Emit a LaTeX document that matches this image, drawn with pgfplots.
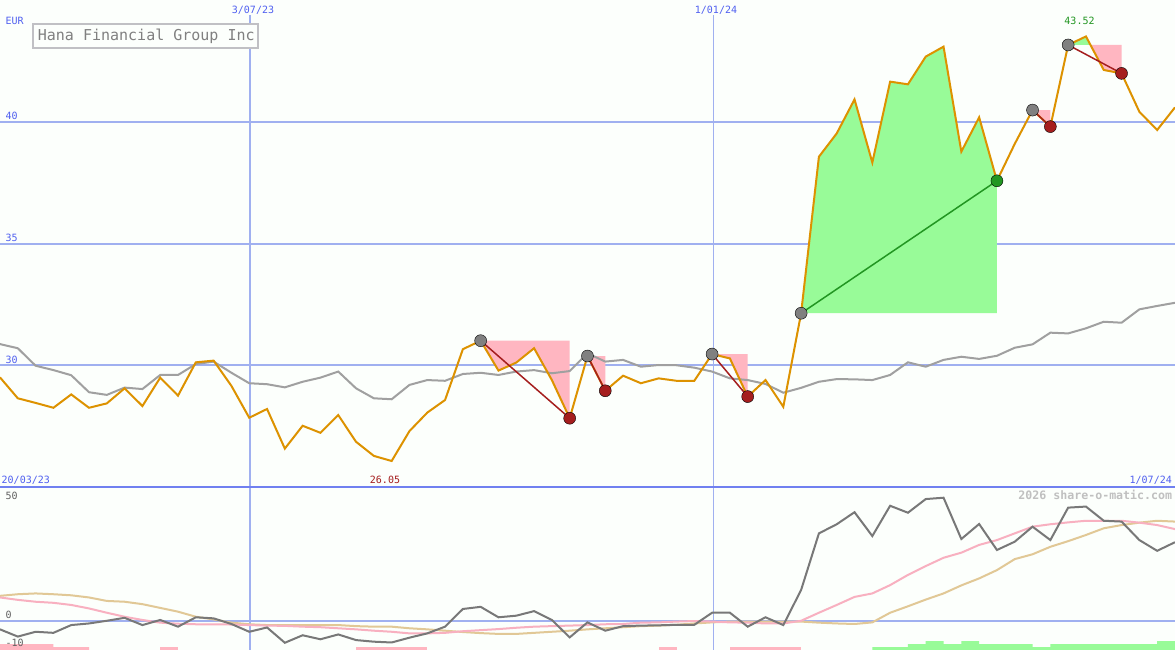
\documentclass[border=0pt]{standalone}
\usepackage{pgfplots}
\pgfplotsset{compat=1.18}
\usepackage{fontspec}
\setmainfont{DejaVu Sans Mono}
\definecolor{bg}{RGB}{252,255,252}
\definecolor{gridblue}{RGB}{160,176,240}
\definecolor{sepblue}{RGB}{112,128,240}
\definecolor{lblue}{RGB}{80,96,240}
\definecolor{pricecol}{RGB}{221,146,0}
\definecolor{macol}{RGB}{160,160,160}
\definecolor{pgreen}{RGB}{152,251,152}
\definecolor{lpink}{RGB}{255,182,193}
\definecolor{dred}{RGB}{165,30,30}
\definecolor{mgrey}{RGB}{128,128,128}
\definecolor{fgreen}{RGB}{34,150,34}
\definecolor{lowgrey}{RGB}{120,120,120}
\definecolor{lowpink}{RGB}{248,176,192}
\definecolor{tanc}{RGB}{225,200,150}
\definecolor{boxgrey}{RGB}{192,192,196}
\definecolor{wmgrey}{RGB}{192,192,192}
\begin{document}
\begin{tikzpicture}
\begin{scope}[x=1pt,y=1pt]
\path[use as bounding box, fill=bg] (0,0) rectangle (1175,650);
% grid lines (pixel layout)
\draw[gridblue, line width=2pt] (0,528) -- (1175,528);
\draw[gridblue, line width=2pt] (0,406) -- (1175,406);
\draw[gridblue, line width=2pt] (0,285) -- (1175,285);
\draw[gridblue, line width=2pt] (0,29) -- (1175,29);
\draw[gridblue, line width=2.5pt] (250,0) -- (250,635);
\draw[gridblue, line width=1pt] (713,0) -- (713,635);
\draw[sepblue, line width=2pt] (0,163) -- (1175,163);
\end{scope}
% upper panel
\begin{axis}[at={(0pt,163pt)}, anchor=south west, scale only axis, width=1175pt, height=487pt,
  xmin=0, xmax=66, ymin=24.98, ymax=45.02, hide axis, clip=true]
% fills
\addplot[fill=lpink, draw=none] coordinates {(27,31.00)(28,29.77)(29,30.10)(30,30.69)(31,29.38)(32,27.81)(32,31.00)};
\addplot[fill=lpink, draw=none] coordinates {(33,30.37)(34,28.94)(34,30.37)};
\addplot[fill=lpink, draw=none] coordinates {(40,30.45)(41,30.27)(42,28.70)(42,30.45)};
\addplot[fill=lpink, draw=none] coordinates {(58,40.49)(59,39.81)(59,40.49)};
\addplot[fill=lpink, draw=none] coordinates {(61.25,43.17)(62,42.14)(63,42.00)(63,43.17)};
\addplot[fill=pgreen, draw=none] coordinates {(60,43.17)(61,43.52)(61.25,43.17)};
\addplot[fill=pgreen, draw=none] coordinates {(45,32.13)(46,38.57)(47,39.53)(48,40.93)(49,38.33)(50,41.66)(51,41.55)(52,42.69)(53,43.10)(54,38.78)(55,40.19)(56,37.58)(56,32.13)};
% moving average
\addplot[macol, line width=2pt] coordinates {(0,30.86)(1,30.69)(2,29.97)(3,29.79)(4,29.58)(5,28.88)(6,28.77)(7,29.07)(8,29.01)(9,29.59)(10,29.59)(11,30.04)(12,30.14)(13,29.68)(14,29.25)(15,29.21)(16,29.08)(17,29.31)(18,29.48)(19,29.73)(20,29.04)(21,28.63)(22,28.59)(23,29.18)(24,29.38)(25,29.35)(26,29.63)(27,29.68)(28,29.59)(29,29.73)(30,29.79)(31,29.66)(32,29.75)(33,30.48)(34,30.14)(35,30.21)(36,29.93)(37,30.00)(38,29.99)(39,29.89)(40,29.73)(41,29.45)(42,29.38)(43,29.22)(44,28.86)(45,29.06)(46,29.31)(47,29.42)(48,29.41)(49,29.38)(50,29.59)(51,30.11)(52,29.93)(53,30.21)(54,30.34)(55,30.25)(56,30.38)(57,30.71)(58,30.85)(59,31.33)(60,31.30)(61,31.51)(62,31.78)(63,31.74)(64,32.29)(65,32.43)(66,32.56)};
% price
\addplot[pricecol, line width=2pt] coordinates {(0,29.49)(1,28.63)(2,28.44)(3,28.24)(4,28.79)(5,28.24)(6,28.42)(7,29.04)(8,28.31)(9,29.48)(10,28.74)(11,30.11)(12,30.18)(13,29.14)(14,27.83)(15,28.19)(16,26.56)(17,27.50)(18,27.21)(19,27.94)(20,26.84)(21,26.26)(22,26.05)(23,27.28)(24,28.04)(25,28.56)(26,30.65)(27,31.00)(28,29.77)(29,30.10)(30,30.69)(31,29.38)(32,27.81)(33,30.37)(34,28.94)(35,29.56)(36,29.25)(37,29.45)(38,29.35)(39,29.35)(40,30.45)(41,30.27)(42,28.70)(43,29.38)(44,28.28)(45,32.13)(46,38.57)(47,39.53)(48,40.93)(49,38.33)(50,41.66)(51,41.55)(52,42.69)(53,43.10)(54,38.78)(55,40.19)(56,37.58)(57,39.10)(58,40.49)(59,39.81)(60,43.17)(61,43.52)(62,42.14)(63,42.00)(64,40.42)(65,39.67)(66,40.60)};
% connectors
\addplot[dred, line width=1.5pt] coordinates {(27,31.00)(32,27.81)};
\addplot[dred, line width=1.5pt] coordinates {(33,30.37)(34,28.94)};
\addplot[dred, line width=1.5pt] coordinates {(40,30.45)(42,28.70)};
\addplot[dred, line width=1.5pt] coordinates {(58,40.49)(59,39.81)};
\addplot[dred, line width=1.5pt] coordinates {(60,43.17)(63,42.00)};
\addplot[fgreen, line width=1.5pt] coordinates {(45,32.13)(56,37.58)};
% markers
\addplot[only marks, mark=*, mark size=6pt, mark options={fill=mgrey, draw=none}] coordinates {(27,31.00)(33,30.37)(40,30.45)(45,32.13)(58,40.49)(60,43.17)};
\addplot[only marks, mark=*, mark size=6pt, mark options={fill=dred, draw=none}] coordinates {(32,27.81)(34,28.94)(42,28.70)(59,39.81)(63,42.00)};
\addplot[only marks, mark=*, mark size=6pt, mark options={fill=fgreen, draw=none}] coordinates {(56,37.58)};
\end{axis}
% lower panel
\begin{axis}[at={(0pt,0pt)}, anchor=south west, scale only axis, width=1175pt, height=163pt,
  xmin=0, xmax=66, ymin=-10.8, ymax=50, hide axis, clip=true]
\addplot[fill=lpink, draw=none] coordinates {(0,-10.8)(0,-8.58)(3,-8.58)(3,-9.7)(5,-9.7)(5,-10.8)};
\addplot[fill=lpink, draw=none] coordinates {(9,-10.8)(9,-9.7)(10,-9.7)(10,-10.8)};
\addplot[fill=lpink, draw=none] coordinates {(20,-10.8)(20,-9.7)(24,-9.7)(24,-10.8)};
\addplot[fill=lpink, draw=none] coordinates {(37,-10.8)(37,-9.7)(38,-9.7)(38,-10.8)};
\addplot[fill=lpink, draw=none] coordinates {(41,-10.8)(41,-9.7)(45,-9.7)(45,-10.8)};
\addplot[fill=pgreen, draw=none] coordinates {(49,-10.8)(49,-9.7)(51,-9.7)(51,-8.58)(52,-8.58)(52,-7.46)(53,-7.46)(53,-8.58)(54,-8.58)(54,-7.46)(55,-7.46)(55,-8.58)(58,-8.58)(58,-9.7)(59,-9.7)(59,-8.58)(65,-8.58)(65,-7.46)(66,-7.46)(66,-10.8)};
\addplot[tanc, line width=2pt] coordinates {(0,9.4)(1,10.0)(2,10.3)(3,10.0)(4,9.6)(5,8.8)(6,7.5)(7,7.2)(8,6.3)(9,4.9)(10,3.5)(11,1.6)(12,0.6)(13,-0.6)(14,-1.2)(15,-1.5)(16,-1.5)(17,-1.5)(18,-1.5)(19,-1.5)(20,-1.9)(21,-2.1)(22,-2.1)(23,-2.7)(24,-3.1)(25,-3.6)(26,-4.1)(27,-4.5)(28,-4.8)(29,-4.8)(30,-4.4)(31,-4.0)(32,-3.6)(33,-3.1)(34,-2.7)(35,-2.3)(36,-1.9)(37,-1.7)(38,-1.4)(39,-0.9)(40,-0.5)(41,-0.2)(42,-0.2)(43,-0.2)(44,-0.2)(45,-0.2)(46,-0.6)(47,-0.9)(48,-1.1)(49,-0.5)(50,3.1)(51,5.5)(52,8.0)(53,10.3)(54,13.3)(55,15.9)(56,19.0)(57,23.1)(58,24.9)(59,27.7)(60,29.8)(61,32.1)(62,34.6)(63,35.8)(64,36.7)(65,37.4)(66,37.1)};
\addplot[lowpink, line width=2pt] coordinates {(0,8.8)(1,7.9)(2,7.2)(3,6.8)(4,6.0)(5,4.7)(6,3.1)(7,1.6)(8,0.4)(9,-0.6)(10,-1.0)(11,-1.2)(12,-1.2)(13,-1.3)(14,-1.5)(15,-1.7)(16,-1.8)(17,-2.1)(18,-2.3)(19,-2.7)(20,-3.1)(21,-3.6)(22,-4.0)(23,-4.6)(24,-4.6)(25,-4.4)(26,-3.8)(27,-3.4)(28,-3.0)(29,-2.5)(30,-2.1)(31,-1.9)(32,-1.7)(33,-1.5)(34,-1.2)(35,-1.1)(36,-0.6)(37,-0.5)(38,-0.2)(39,0.0)(40,-0.2)(41,-0.5)(42,-0.6)(43,-0.9)(44,-0.9)(45,0.1)(46,3.1)(47,6.0)(48,9.0)(49,10.3)(50,13.4)(51,17.2)(52,20.5)(53,23.6)(54,25.5)(55,28.4)(56,30.2)(57,32.7)(58,35.2)(59,36.1)(60,36.8)(61,37.4)(62,37.4)(63,37.4)(64,36.7)(65,35.8)(66,34.3)};
\addplot[lowgrey, line width=2pt] coordinates {(0,-3.1)(1,-5.8)(2,-4.0)(3,-4.4)(4,-1.5)(5,-0.9)(6,0.1)(7,1.2)(8,-1.5)(9,0.4)(10,-2.1)(11,1.4)(12,1.0)(13,-1.1)(14,-4.0)(15,-2.4)(16,-8.1)(17,-5.3)(18,-6.8)(19,-5.0)(20,-7.1)(21,-7.7)(22,-8.0)(23,-6.2)(24,-4.6)(25,-2.1)(26,4.5)(27,5.3)(28,1.4)(29,2.0)(30,3.7)(31,0.4)(32,-6.1)(33,-0.5)(34,-3.6)(35,-1.9)(36,-1.7)(37,-1.6)(38,-1.4)(39,-1.4)(40,3.1)(41,3.1)(42,-2.1)(43,1.4)(44,-1.5)(45,11.6)(46,32.7)(47,36.1)(48,40.6)(49,31.7)(50,43.0)(51,40.4)(52,45.5)(53,46.0)(54,30.6)(55,36.2)(56,26.5)(57,29.6)(58,35.2)(59,30.2)(60,42.3)(61,42.7)(62,37.4)(63,37.1)(64,30.2)(65,26.2)(66,29.4)};
\end{axis}
\begin{scope}[x=1pt,y=1pt]
% labels
\tikzset{lab/.style={inner sep=0pt, font=\fontsize{10}{12}\selectfont}}
\node[lab, anchor=base west, text=lblue] at (5.5,625) {EUR};
\node[lab, anchor=base, text=lblue] at (253,636.7) {3/07/23};
\node[lab, anchor=base, text=lblue] at (716,636.7) {1/01/24};
\node[lab, anchor=base west, text=lblue] at (5.5,530) {40};
\node[lab, anchor=base west, text=lblue] at (5.5,408.5) {35};
\node[lab, anchor=base west, text=lblue] at (5.5,286.7) {30};
\node[lab, anchor=base west, text=lblue] at (1.5,166.7) {20/03/23};
\node[lab, anchor=base, text=dred] at (385,166.7) {26.05};
\node[lab, anchor=base east, text=lblue] at (1172,166.7) {1/07/24};
\node[lab, anchor=base, text=fgreen] at (1079.5,625) {43.52};
\node[inner sep=0pt, anchor=base east, text=wmgrey, font=\fontsize{11.6}{13}\selectfont\bfseries] at (1172.3,150) {2026 share-o-matic.com};
\node[lab, anchor=base west, text=lowgrey!80!black] at (5.5,150.7) {50};
\node[lab, anchor=base west, text=lowgrey!80!black] at (5.5,31.7) {0};
\node[lab, anchor=base west, text=lowgrey!80!black] at (5.5,3.3) {-10};
% title box
\draw[boxgrey, line width=2pt, fill=bg] (33,601.7) rectangle (258.3,625.7);
\node[inner sep=0pt, anchor=base west, text=mgrey, font=\fontsize{15}{17}\selectfont] at (37.7,609.3) {Hana Financial Group Inc};
\end{scope}
\end{tikzpicture}
\end{document}
